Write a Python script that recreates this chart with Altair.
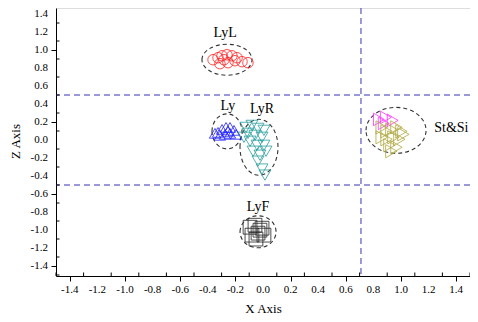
import altair as alt
import pandas as pd

# ---- data ----
lyl_x = [-0.362, -0.326, -0.297, -0.261, -0.225, -0.188, -0.152, -0.109, -0.312, -0.254, -0.203, -0.283]
lyl_z = [0.892, 0.914, 0.936, 0.947, 0.936, 0.914, 0.870, 0.859, 0.848, 0.859, 0.881, 0.892]

ly_x = [-0.326, -0.297, -0.268, -0.239, -0.210, -0.275, -0.312, -0.239, -0.196, -0.348, -0.254]
ly_z = [0.085, 0.118, 0.140, 0.140, 0.107, 0.063, 0.052, 0.074, 0.063, 0.074, 0.096]

lyr_x = [-0.123, -0.080, -0.036, 0.007, -0.109, -0.058, -0.007, -0.094, -0.043, 0.007,
         -0.072, -0.022, 0.022, -0.036, -0.007, 0.014, -0.138]
lyr_z = [0.140, 0.162, 0.129, 0.107, 0.074, 0.052, 0.030, -0.014, -0.059, -0.059,
         -0.125, -0.169, -0.125, -0.235, -0.323, -0.390, 0.030]

st_x = [0.840, 0.890, 0.940, 0.875]
st_z = [0.229, 0.251, 0.218, 0.185]

si_x = [0.860, 0.895, 0.930, 0.967, 1.003, 0.895, 0.945, 0.988, 0.916, 0.967, 1.017, 0.860, 0.930]
si_z = [0.140, 0.096, 0.118, 0.140, 0.096, 0.008, 0.030, 0.008, -0.058, -0.081, 0.063, 0.030, -0.125]

lyf_x = [-0.094, -0.058, -0.007, -0.036, -0.080, 0.007, -0.051, -0.022]
lyf_z = [-0.969, -0.947, -0.980, -1.035, -1.057, -1.057, -1.101, -1.002]

label_text = ["LyL", "Ly", "LyR", "St&Si", "LyF"]
label_x = [-0.275, -0.254, -0.007, 1.365, -0.036]
label_z = [1.19, 0.383, 0.35, 0.129, -0.744]

ell_name = ["LyL", "Ly", "LyR", "St&Si", "LyF"]
ell_x = [-0.261, -0.261, -0.029, 0.964, -0.036]
ell_z = [0.892, 0.096, -0.081, 0.107, -1.02]
ell_rx = [25, 15, 19, 30, 18]
ell_ry = [15.5, 17.5, 28, 23, 16]

major_ticks = [round(-1.4 + 0.2 * i, 1) + 0.0 for i in range(15)]
tick_labels = [f"{v:.1f}" for v in major_ticks]
minor_ticks = [round(-1.5 + 0.2 * i, 1) for i in range(16)]
h_lines = [0.5, -0.5]
v_lines = [0.71]

groups = ["LyL", "Ly", "LyR", "St", "Si", "LyF"]
colors = ["#ff2020", "#2020ff", "#2a9d9d", "#ff30ff", "#b0a840", "#222222"]
shapes = ["circle", "triangle-up", "triangle-down", "triangle-right", "triangle-right", "square"]
marker_sizes = [110, 190, 170, 170, 170, 150]

rows = []
for g, xs_, zs_ in zip(groups, [lyl_x, ly_x, lyr_x, st_x, si_x, lyf_x],
                       [lyl_z, ly_z, lyr_z, st_z, si_z, lyf_z]):
    for a, b in zip(xs_, zs_):
        rows.append({"x": a, "z": b, "g": g})
pts = pd.DataFrame(rows)

W, H = 414, 268
XD = [-1.5, 1.5]
Y_TOP = 1.466667
YD = [Y_TOP - H / 90.0, Y_TOP]
FONT = "Liberation Serif"

xs = alt.Scale(domain=XD, nice=False, zero=False)
ys = alt.Scale(domain=YD, nice=False, zero=False)

common_axis = dict(grid=False, tickSize=5, labels=False,
                   titleFont=FONT, titleFontSize=13, titleFontWeight="normal", titleColor="black",
                   domainColor="black", tickColor="black")

X_AX = alt.X("x:Q", scale=xs, title="X Axis",
             axis=alt.Axis(values=major_ticks, titleX=W / 2, titleY=32, titleBaseline="middle", **common_axis))
Y_AX = alt.Y("z:Q", scale=ys, title="Z Axis",
             axis=alt.Axis(values=major_ticks, titleX=-41, titleY=133, titleAngle=-90,
                           titleBaseline="middle", titleAlign="center", **common_axis))

paths = []
sizes = []
for rx, ry in zip(ell_rx, ell_ry):
    m = max(rx, ry)
    a, b = rx / m, ry / m
    paths.append(f"M {-a},0 A {a},{b} 0 1,1 {a},0 A {a},{b} 0 1,1 {-a},0 Z")
    sizes.append((2 * m) ** 2)
ell = pd.DataFrame({"x": ell_x, "z": ell_z, "name": ell_name, "sz": sizes})
ellipses = alt.Chart(ell).mark_point(filled=False, color="#333333", strokeWidth=1.1,
                                     strokeDash=[4, 3], opacity=1).encode(
    x=X_AX, y=Y_AX,
    shape=alt.Shape("name:N", scale=alt.Scale(domain=ell_name, range=paths), legend=None),
    size=alt.Size("sz:Q", scale=None, legend=None),
)

hl = alt.Chart(pd.DataFrame({"z": h_lines})).mark_rule(
    color="#3535b5", strokeDash=[6, 4], strokeWidth=1).encode(
    y=alt.Y("z:Q", scale=ys, title="Z Axis"))
vl = alt.Chart(pd.DataFrame({"x": v_lines})).mark_rule(color="#3535b5", strokeDash=[6, 4], strokeWidth=1).encode(
    x=alt.X("x:Q", scale=xs, title="X Axis"))

points = alt.Chart(pts).mark_point(filled=False, strokeWidth=0.8, opacity=1).encode(
    x=alt.X("x:Q", scale=xs, title="X Axis"),
    y=alt.Y("z:Q", scale=ys, title="Z Axis"),
    color=alt.Color("g:N", scale=alt.Scale(domain=groups, range=colors), legend=None),
    shape=alt.Shape("g:N", scale=alt.Scale(domain=groups, range=shapes), legend=None),
    size=alt.Size("g:N", scale=alt.Scale(domain=groups, range=marker_sizes), legend=None),
)

labels = alt.Chart(pd.DataFrame({"x": label_x, "z": label_z, "t": label_text})).mark_text(
    font=FONT, fontSize=14, color="black").encode(
    x=alt.X("x:Q", scale=xs, title="X Axis"), y=alt.Y("z:Q", scale=ys, title="Z Axis"), text="t:N")

tdf = pd.DataFrame({"v": major_ticks, "t": tick_labels})
xlab = alt.Chart(tdf).mark_text(font=FONT, fontSize=11, color="black", baseline="middle",
                                align="center", dy=14).encode(
    x=alt.X("v:Q", scale=xs, title="X Axis"), y=alt.datum(YD[0]), text="t:N")
ylab = alt.Chart(tdf).mark_text(font=FONT, fontSize=11, color="black", baseline="middle",
                                align="right", dx=-8).encode(
    y=alt.Y("v:Q", scale=ys, title="Z Axis"), x=alt.datum(XD[0]), text="t:N")

mdf = pd.DataFrame({"m": minor_ticks})
xminor = alt.Chart(mdf).mark_rule(color="black", strokeWidth=1).encode(
    x=alt.X("m:Q", scale=xs, title="X Axis"), y=alt.datum(YD[0]), y2=alt.datum(YD[0] + 3.5 / 90.0))
ymdf = pd.DataFrame({"m": [v for v in minor_ticks if v <= Y_TOP]})
yminor = alt.Chart(ymdf).mark_rule(color="black", strokeWidth=1).encode(
    y=alt.Y("m:Q", scale=ys, title="Z Axis"), x=alt.datum(XD[0]), x2=alt.datum(XD[0] + 3.5 / 138))

chart = alt.layer(ellipses, hl, vl, points, labels, xminor, yminor, xlab, ylab).resolve_scale(
    shape="independent", size="independent", color="independent"
).properties(
    width=W, height=H,
    autosize=alt.AutoSizeParams(type="none"),
    padding={"left": 48, "top": 0, "right": 0, "bottom": 38},
).configure_view(stroke=None).configure(background="white")

chart.save("out.html", embed_options={"renderer": "svg", "actions": False})
